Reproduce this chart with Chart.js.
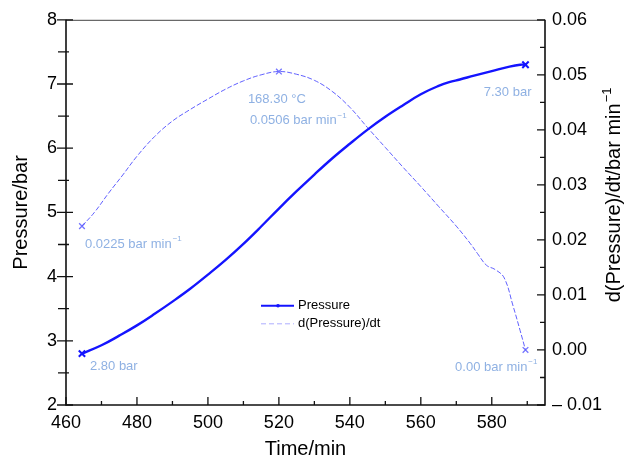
<!DOCTYPE html>
<html>
<head>
<meta charset="utf-8">
<script src="https://cdn.jsdelivr.net/npm/chart.js@4.4.0/dist/chart.umd.min.js"></script>
<style>
  html, body { margin: 0; padding: 0; background: #fff; }
  #wrap { width: 625px; height: 459px; }
</style>
</head>
<body>
<div id="wrap"><canvas id="graph" width="625" height="459"></canvas></div>
<script>
// Pressure vs time (min, bar)
const pressureTime = [464.5, 470, 475, 480, 485, 490, 495, 500, 505, 510, 515, 520, 525, 530,
  535, 540, 545, 550, 555, 560, 565, 568, 571, 575, 580, 585, 588, 589.5];
const pressureValues = [2.80, 2.93, 3.08, 3.24, 3.42, 3.61, 3.81, 4.03, 4.26, 4.51, 4.78, 5.06, 5.33, 5.59,
  5.84, 6.07, 6.29, 6.49, 6.67, 6.84, 6.97, 7.03, 7.07, 7.13, 7.20, 7.27, 7.30, 7.30];

// Rate of pressure rise (bar/min)
const rateTime = [464.5, 468, 472, 476, 480, 485, 490, 495, 500, 505, 510, 515, 520, 525, 530,
  535, 540, 545, 550, 555, 560, 565, 570, 574, 576, 578.5, 581, 583.5, 586, 588, 589.5];
const rateValues = [0.0225, 0.0250, 0.0285, 0.0318, 0.0352, 0.0388, 0.0416, 0.0437, 0.0456, 0.0474, 0.0489, 0.0500, 0.0506, 0.0501, 0.0490,
  0.0470, 0.0441, 0.0404, 0.0368, 0.0332, 0.0297, 0.0261, 0.0225, 0.0193, 0.0175, 0.0154, 0.0146, 0.0131, 0.0080, 0.0035, 0.0000];

const peakTemperature = 168.30; // °C at the max rate

const xTicks = [460, 480, 500, 520, 540, 560, 580];
const pressureTicks = [2, 3, 4, 5, 6, 7, 8];
const rateTicks = [-0.01, 0, 0.01, 0.02, 0.03, 0.04, 0.05, 0.06];

const FONT = '"Liberation Sans", Arial, Helvetica, sans-serif';
const LABEL_BLUE = '#8fb1e3';
const P_COLOR = '#1414ff';
const R_COLOR = 'rgba(80,80,255,0.9)';

const peakIdx = rateValues.indexOf(Math.max(...rateValues));

function toPoints(xs, ys) {
  return xs.map((x, i) => ({ x: x, y: ys[i] }));
}

function fixedTicks(list) {
  return scale => { scale.ticks = list.map(v => ({ value: v })); };
}

// text with a small raised "−1" after it
function supText(ctx, text, sup, x, y, align, size) {
  const small = Math.round(size * 0.65);
  ctx.font = size + 'px ' + FONT;
  const w1 = ctx.measureText(text).width;
  ctx.font = small + 'px ' + FONT;
  const w2 = sup ? ctx.measureText(sup).width + 1 : 0;
  let x0 = x;
  if (align === 'right') x0 = x - w1 - w2;
  if (align === 'center') x0 = x - (w1 + w2) / 2;
  ctx.textAlign = 'left';
  ctx.textBaseline = 'middle';
  ctx.font = size + 'px ' + FONT;
  ctx.fillText(text, x0, y);
  if (sup) {
    ctx.font = small + 'px ' + FONT;
    ctx.fillText(sup, x0 + w1 + 1, y - size * 0.38);
  }
}

const framePlugin = {
  id: 'frame',
  afterDraw(chart) {
    const ctx = chart.ctx;
    const a = chart.chartArea;
    const sx = chart.scales.x, sy = chart.scales.y, sr = chart.scales.y1;
    ctx.save();

    // box
    ctx.strokeStyle = '#444';
    ctx.lineWidth = 1;
    ctx.beginPath();
    ctx.moveTo(a.left, a.top + 0.5);
    ctx.lineTo(a.right, a.top + 0.5);
    ctx.stroke();
    ctx.strokeStyle = '#111';
    ctx.lineWidth = 1.6;
    ctx.beginPath();
    ctx.moveTo(a.left, a.top);
    ctx.lineTo(a.left, a.bottom);
    ctx.lineTo(a.right, a.bottom);
    ctx.lineTo(a.right, a.top);
    ctx.stroke();

    // tick marks
    ctx.lineWidth = 1.3;
    ctx.beginPath();
    for (let v = 460; v <= 595; v += 10) {
      const x = sx.getPixelForValue(v);
      const len = v % 20 === 0 ? 8 : 4;
      ctx.moveTo(x, a.bottom);
      ctx.lineTo(x, a.bottom - len);
    }
    for (let v = 2; v <= 8.001; v += 0.5) {
      const y = sy.getPixelForValue(v);
      const major = Math.abs(v - Math.round(v)) < 1e-6;
      ctx.moveTo(a.left - (major ? 9 : 8), y);
      ctx.lineTo(a.left + (major ? 7 : 3), y);
    }
    for (let i = 0; i <= 14; i++) {
      const v = -0.01 + i * 0.005;
      const y = sr.getPixelForValue(v);
      ctx.moveTo(a.right, y);
      ctx.lineTo(a.right - (i % 2 === 0 ? 8 : 5), y);
    }
    ctx.stroke();

    // point labels
    ctx.fillStyle = LABEL_BLUE;
    const n = pressureTime.length - 1;
    let x = sx.getPixelForValue(pressureTime[0]);
    let y = sy.getPixelForValue(pressureValues[0]);
    supText(ctx, pressureValues[0].toFixed(2) + ' bar', '', x + 8, y + 13, 'left', 13);
    x = sx.getPixelForValue(pressureTime[n]);
    y = sy.getPixelForValue(pressureValues[n]);
    supText(ctx, pressureValues[n].toFixed(2) + ' bar', '', x + 6, y + 28, 'right', 13);

    const m = rateTime.length - 1;
    x = sx.getPixelForValue(rateTime[0]);
    y = sr.getPixelForValue(rateValues[0]);
    supText(ctx, rateValues[0].toFixed(4) + ' bar min', '\u22121', x + 3, y + 18, 'left', 13);
    x = sx.getPixelForValue(rateTime[peakIdx]);
    y = sr.getPixelForValue(rateValues[peakIdx]);
    supText(ctx, peakTemperature.toFixed(2) + ' \u00b0C', '', x - 31, y + 28, 'left', 13);
    supText(ctx, rateValues[peakIdx].toFixed(4) + ' bar min', '\u22121', x - 29, y + 49, 'left', 13);
    x = sx.getPixelForValue(rateTime[m]);
    y = sr.getPixelForValue(rateValues[m]);
    supText(ctx, rateValues[m].toFixed(2) + ' bar min', '\u22121', x + 12, y + 17, 'right', 13);

    // legend
    const lx = a.left + 195, ly = a.top + 286;
    ctx.strokeStyle = P_COLOR;
    ctx.lineWidth = 2;
    ctx.beginPath();
    ctx.moveTo(lx, ly);
    ctx.lineTo(lx + 33, ly);
    ctx.stroke();
    ctx.fillStyle = P_COLOR;
    ctx.beginPath();
    ctx.arc(lx + 17, ly, 1.8, 0, Math.PI * 2);
    ctx.fill();
    ctx.strokeStyle = 'rgba(120,120,255,0.6)';
    ctx.lineWidth = 1;
    ctx.setLineDash([5, 3]);
    ctx.beginPath();
    ctx.moveTo(lx, ly + 18);
    ctx.lineTo(lx + 33, ly + 18);
    ctx.stroke();
    ctx.setLineDash([]);
    ctx.fillStyle = '#000';
    supText(ctx, 'Pressure', '', lx + 37, ly, 'left', 13);
    supText(ctx, 'd(Pressure)/dt', '', lx + 37, ly + 18, 'left', 13);

    // right axis title, reading upward
    ctx.translate(620, (a.top + a.bottom) / 2 - 17);
    ctx.rotate(-Math.PI / 2);
    ctx.fillStyle = '#000';
    ctx.font = '20px ' + FONT;
    const main = 'd(Pressure)/dt/bar min';
    const w1 = ctx.measureText(main).width;
    ctx.font = '13px ' + FONT;
    const w2 = ctx.measureText('\u22121').width;
    const x0 = -(w1 + w2) / 2;
    ctx.textAlign = 'left';
    ctx.textBaseline = 'alphabetic';
    ctx.font = '20px ' + FONT;
    ctx.fillText(main, x0, 0);
    ctx.font = '13px ' + FONT;
    ctx.fillText('\u22121', x0 + w1 + 1, -9);
    ctx.restore();
  }
};

const chart = new Chart(document.getElementById('graph'), {
  type: 'line',
  data: {
    datasets: [
      {
        label: 'Pressure',
        data: toPoints(pressureTime, pressureValues),
        yAxisID: 'y',
        borderColor: P_COLOR,
        borderWidth: 2.4,
        tension: 0.4,
        pointStyle: 'crossRot',
        pointRadius: c => (c.dataIndex === 0 || c.dataIndex === pressureTime.length - 1) ? 4.5 : 0,
        pointBorderColor: P_COLOR,
        pointBorderWidth: 2,
        clip: false
      },
      {
        label: 'd(Pressure)/dt',
        data: toPoints(rateTime, rateValues),
        yAxisID: 'y1',
        borderColor: R_COLOR,
        borderWidth: 1,
        borderDash: [5, 2],
        tension: 0.4,
        pointStyle: 'crossRot',
        pointRadius: c => (c.dataIndex === 0 || c.dataIndex === peakIdx || c.dataIndex === rateTime.length - 1) ? 4 : 0,
        pointBorderColor: 'rgba(90,90,255,0.85)',
        pointBorderWidth: 1.3,
        clip: false
      }
    ]
  },
  options: {
    responsive: false,
    animation: false,
    devicePixelRatio: 1,
    layout: { padding: { top: 19, right: 0, left: 0, bottom: 0 } },
    plugins: { legend: { display: false }, tooltip: { enabled: false } },
    scales: {
      x: {
        type: 'linear',
        min: 460,
        max: 595,
        afterBuildTicks: fixedTicks(xTicks),
        afterFit: s => { s.height = 54; },
        grid: { display: false, drawTicks: false },
        border: { display: false },
        ticks: { color: '#000', font: { family: FONT, size: 18 }, padding: 7 },
        title: {
          display: true, text: 'Time/min', color: '#000',
          font: { family: FONT, size: 20 }, padding: { top: 0, bottom: -2 }
        }
      },
      y: {
        position: 'left',
        min: 2,
        max: 8,
        afterBuildTicks: fixedTicks(pressureTicks),
        afterFit: s => { s.width = 66; },
        grid: { display: false, drawTicks: false },
        border: { display: false },
        ticks: { color: '#000', font: { family: FONT, size: 18 }, padding: 9 },
        title: {
          display: true, text: 'Pressure/bar', color: '#000',
          font: { family: FONT, size: 20 }, padding: { top: 9, bottom: 0 }
        }
      },
      y1: {
        position: 'right',
        min: -0.01,
        max: 0.06,
        afterBuildTicks: fixedTicks(rateTicks),
        afterFit: s => { s.width = 80; },
        grid: { display: false, drawTicks: false },
        border: { display: false },
        ticks: {
          color: '#000', font: { family: FONT, size: 18 }, padding: 7,
          callback: v => v < 0 ? '\u2013 ' + Math.abs(v).toFixed(2) : v.toFixed(2)
        }
      }
    }
  },
  plugins: [framePlugin]
});
</script>
</body>
</html>
